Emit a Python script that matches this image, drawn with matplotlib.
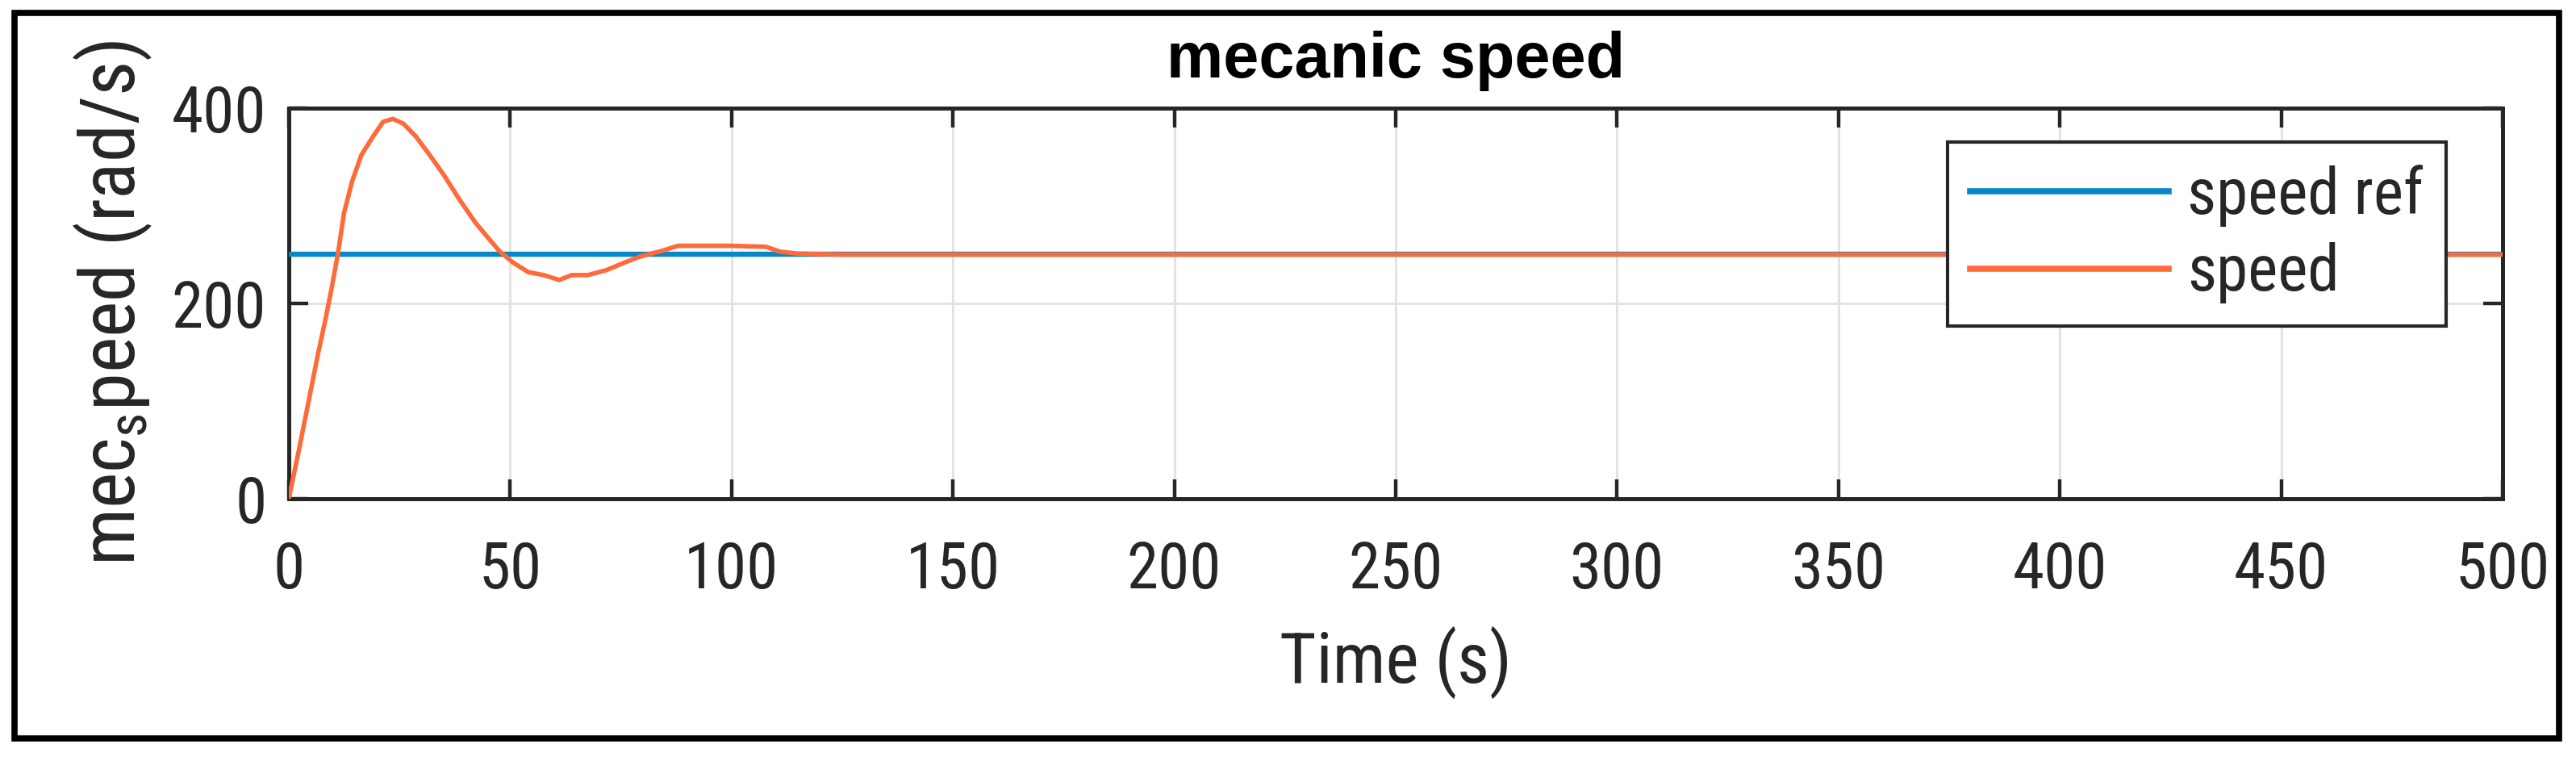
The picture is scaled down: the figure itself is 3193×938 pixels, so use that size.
import numpy as np
import matplotlib
matplotlib.use("Agg")
import matplotlib.pyplot as plt
from matplotlib.patches import Rectangle

# values
time_s = [0, 2.3, 4.4, 6.5, 8.3, 9.7, 11.1, 12.5, 14.3, 16.4, 18.9, 21.3, 23.5,
          25.9, 28.7, 31.5, 35.1, 38.6, 42.1, 45.6, 47.7, 50.6, 54.1, 57.6,
          61.1, 63.9, 67.5, 71.7, 75.9, 79.4, 84.4, 87.9, 92.2, 99.7, 107.7,
          111, 115, 125, 500]
speed = [0, 50, 98, 146, 184, 216, 251, 293, 325, 352, 370, 386, 389,
         384, 371, 354, 331, 306, 283, 264, 253, 242, 232, 229,
         224, 229, 229, 234, 242, 248, 254, 259, 259, 259, 258,
         253, 251, 250, 250]
ref_time = [0, 500]
speed_ref = [250, 250]

xticks = list(range(0, 501, 50))
yticks = [0, 200, 400]

plt.rcParams["font.family"] = ["Roboto Condensed", "Liberation Sans", "DejaVu Sans"]
plt.rcParams["mathtext.fontset"] = "custom"
plt.rcParams["mathtext.rm"] = "Roboto Condensed"
plt.rcParams["mathtext.it"] = "Roboto Condensed"

dark = "#262626"
blue = "#0587C8"
orange = "#FF6A3A"

fig = plt.figure(figsize=(31.93, 9.38), dpi=100)
ax = fig.add_axes([0.1121, 0.3412, 0.8594, 0.516])

ax.plot(ref_time, speed_ref, color=blue, lw=4.6, label="speed ref", zorder=3)
ax.plot(time_s, speed, color=orange, lw=4.0, label="speed", zorder=4)

ax.set_xlim(0, 500)
ax.set_ylim(0, 400)
ax.set_xticks(xticks)
ax.set_yticks(yticks)
ax.grid(True, color="#E3E3E3", lw=2.2, zorder=0)
ax.set_axisbelow(True)

for sp in ax.spines.values():
    sp.set_color(dark)
    sp.set_linewidth(3.6)

ax.tick_params(axis="both", direction="in", top=True, right=True,
               length=17, width=3.2, color=dark, labelcolor=dark, labelsize=57)
ax.tick_params(axis="x", pad=37)
ax.tick_params(axis="y", pad=20)

ax.set_title("mecanic speed", family=["Liberation Sans", "DejaVu Sans"],
             fontweight="bold", fontsize=57, pad=27)
ax.set_xlabel("Time (s)", fontsize=63, color=dark, labelpad=22)
ax.set_ylabel("mec$_{\\mathrm{s}}$peed (rad/s)", fontsize=68, color=dark)
ax.yaxis.set_label_coords(-0.061, 0.5)

leg = ax.legend(loc="upper right", bbox_to_anchor=(0.9745, 0.913),
                borderaxespad=0, fontsize=57, fancybox=False, framealpha=1,
                borderpad=0.35, labelspacing=0.25, handlelength=3.1,
                handletextpad=0.3)
leg.get_frame().set_edgecolor(dark)
leg.get_frame().set_linewidth(3.0)
for t in leg.get_texts():
    t.set_color(dark)
for h in leg.get_lines():
    h.set_linewidth(5.5)

# black frame around the whole picture
fig.add_artist(Rectangle((0.0056, 0.0245), 0.9878, 0.958, transform=fig.transFigure,
                         fill=False, edgecolor="black", lw=5.5))

fig.savefig("out.png", dpi=100)
